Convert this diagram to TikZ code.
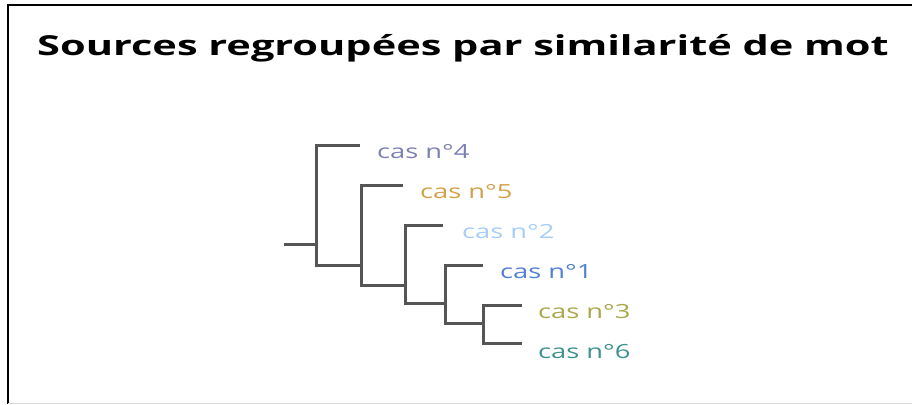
\documentclass[tikz,border=0pt]{standalone}
\usepackage{fontspec}
\setmainfont{Open Sans}[FakeStretch=1.40]
\newfontfamily\titlefont{Open Sans}[FakeStretch=1.51]
\definecolor{branch}{RGB}{85,85,85}
\definecolor{casfour}{RGB}{125,128,181}
\definecolor{casfive}{RGB}{212,160,71}
\definecolor{castwo}{RGB}{166,205,247}
\definecolor{casone}{RGB}{79,127,214}
\definecolor{casthree}{RGB}{168,168,74}
\definecolor{cassix}{RGB}{61,146,142}
\usetikzlibrary{positioning}

\begin{document}
\begin{tikzpicture}[x=1pt, y=-1pt,
  every node/.style={inner sep=0pt, font=\fontsize{19.5}{22}\selectfont},
  leaf/.style={anchor=base west},
  tree/.style={branch, line width=3pt}]
\useasboundingbox (0,0) rectangle (912,404);
% frame
\draw[black, line width=2pt] (8,404) -- (8,5) -- (912,5);
\draw[black!15, line width=1pt] (8,403.5) -- (912,403.5);
% title
\node[anchor=base, font=\titlefont\fontsize{27.5}{32}\selectfont\bfseries] (title) at (463,56)
  {Sources regroupées par similarité de mot};
% leaf ends and junctions
\coordinate (root) at (284,244);
\coordinate (j1) at (316,244);
\coordinate (j2) at (361,265);
\coordinate (j3) at (405,285);
\coordinate (j4) at (445,303);
\coordinate (j5) at (483,323);
\coordinate (e4) at (360,145);
\coordinate (e5) at (403,185);
\coordinate (e2) at (443,225);
\coordinate (e1) at (483,265);
\coordinate (e3) at (522,305);
\coordinate (e6) at (522,343);
% branches
\draw[tree] (root) -- (j1);
\draw[tree] (e4) -| (j1) |- (j2);
\draw[tree] (e5) -| (j2) |- (j3);
\draw[tree] (e2) -| (j3) |- (j4);
\draw[tree] (e1) -| (j4) |- (j5);
\draw[tree] (e3) -| (j5) |- (e6);
% leaf labels
\node[leaf, casfour] (c4) at (377,158) {cas n°4};
\node[leaf, casfive] (c5) at (420,198) {cas n°5};
\node[leaf, castwo] (c2) at (462,238) {cas n°2};
\node[leaf, casone] (c1) at (500,278) {cas n°1};
\node[leaf, casthree] (c3) at (538,318) {cas n°3};
\node[leaf, cassix] (c6) at (538,358) {cas n°6};
\end{tikzpicture}
\end{document}
